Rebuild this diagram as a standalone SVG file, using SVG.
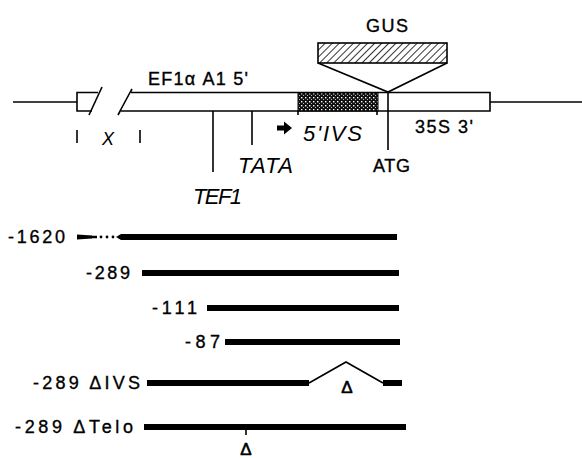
<svg xmlns="http://www.w3.org/2000/svg" width="582" height="458" viewBox="0 0 582 458">
<defs>
<pattern id="hatch" patternUnits="userSpaceOnUse" width="5" height="5" patternTransform="rotate(45)">
<rect width="5" height="5" fill="#fff"/>
<line x1="0" y1="0" x2="0" y2="5" stroke="#000" stroke-width="1.6"/>
</pattern>
<pattern id="stipple" patternUnits="userSpaceOnUse" width="4" height="4">
<rect width="4" height="4" fill="#111"/>
<rect x="1" y="1" width="1.4" height="1.4" fill="#fff"/>
<rect x="3" y="3" width="1" height="1" fill="#bbb"/>
</pattern>
<style>
.ln{stroke:#000;stroke-width:1.6;fill:none}
.bx{stroke:#000;stroke-width:1.6;fill:#fff}
.bar{stroke:#000;stroke-width:6;fill:none}
.t{font-family:"Liberation Sans",Arial,sans-serif;font-size:18px;fill:#000;stroke:#000;stroke-width:0.35}
.it{font-family:"Liberation Sans",Arial,sans-serif;font-size:22px;font-style:italic;fill:#000}
.d{font-family:"Liberation Sans",Arial,sans-serif;font-size:17px;fill:#000;stroke:#000;stroke-width:0.6;text-anchor:middle}
</style>
</defs>
<rect width="582" height="458" fill="#fff"/>

<g id="construct">
<line class="ln" x1="13" y1="102" x2="77" y2="102"/>
<path class="ln" d="M98,92.5 L77,92.5 L77,111 L92,111"/>
<line class="ln" x1="89" y1="115" x2="102" y2="87"/>
<line class="ln" x1="118" y1="115" x2="132" y2="89"/>
<path class="bx" d="M131,92.5 L490,92.5 L490,111 L121,111"/>
<rect x="298" y="93" width="80" height="18" fill="url(#stipple)" stroke="#000" stroke-width="1"/>
<line class="ln" x1="298" y1="111" x2="298" y2="115"/>
<line class="ln" x1="377" y1="111" x2="377" y2="115"/>
<line class="ln" x1="490" y1="102" x2="582" y2="102"/>
<line class="ln" x1="388" y1="92" x2="388" y2="150"/>
<line class="ln" x1="213" y1="111" x2="213" y2="172"/>
<line class="ln" x1="252" y1="111" x2="252" y2="145"/>
<line class="ln" x1="77" y1="130" x2="77" y2="143"/>
<line class="ln" x1="140" y1="130" x2="140" y2="143"/>
<polygon points="277,125.5 284,125.5 284,121.5 292,128 284,134.5 284,130.5 277,130.5" fill="#000"/>
</g>

<g id="gus">
<rect x="318" y="43" width="129" height="20" fill="url(#hatch)" stroke="#000" stroke-width="1.6"/>
<path class="ln" d="M318,63 L388,92 L447,63"/>
<text class="t" x="366" y="32" textLength="42">GUS</text>
</g>

<g id="labels">
<text class="t" x="148" y="85" textLength="100">EF1α A1 5'</text>
<text class="it" x="102" y="145" textLength="20" style="font-size:18px">X</text>
<text class="it" x="193" y="204" textLength="49">TEF1</text>
<text class="it" x="238" y="173" textLength="55">TATA</text>
<text class="it" x="303" y="141" textLength="59">5'IVS</text>
<text class="t" x="415" y="133" textLength="58">35S 3'</text>
<text class="t" x="373" y="172" textLength="37">ATG</text>
</g>

<g id="row1620">
<text class="t" x="8" y="243" textLength="57">-1620</text>
<path d="M77,234.5 L92,235.5 L92,238.5 L77,239.5 Z" fill="#000"/>
<line x1="91" y1="237" x2="97" y2="237" stroke="#000" stroke-width="2.5"/>
<circle cx="101" cy="237" r="1.4" fill="#000"/>
<circle cx="107" cy="237" r="1.4" fill="#000"/>
<circle cx="113" cy="237" r="1.4" fill="#000"/>
<path d="M116,237 L121,234 L397,234 L397,240 L121,240 Z" fill="#000"/>
</g>

<g id="row289">
<text class="t" x="86" y="279" textLength="44">-289</text>
<line class="bar" x1="142" y1="273" x2="399" y2="273"/>
</g>

<g id="row111">
<text class="t" x="152" y="314" textLength="45">-111</text>
<line class="bar" x1="207" y1="308" x2="399" y2="308"/>
</g>

<g id="row87">
<text class="t" x="185" y="348" textLength="35">-87</text>
<line class="bar" x1="225" y1="342" x2="400" y2="342"/>
</g>

<g id="row289divs">
<text class="t" x="33" y="389" textLength="107">-289 ΔIVS</text>
<line class="bar" x1="147" y1="383" x2="309" y2="383"/>
<line class="bar" x1="383" y1="383" x2="402" y2="383"/>
<path class="ln" d="M309,383 L346,362 L383,383" stroke-width="2"/>
<text class="d" x="347" y="393">Δ</text>
</g>

<g id="row289dtelo">
<text class="t" x="15" y="433" textLength="118">-289 ΔTelo</text>
<line class="bar" x1="144" y1="427" x2="406" y2="427"/>
<line class="ln" x1="246" y1="427" x2="246" y2="435"/>
<text class="d" x="246" y="455">Δ</text>
</g>
</svg>
